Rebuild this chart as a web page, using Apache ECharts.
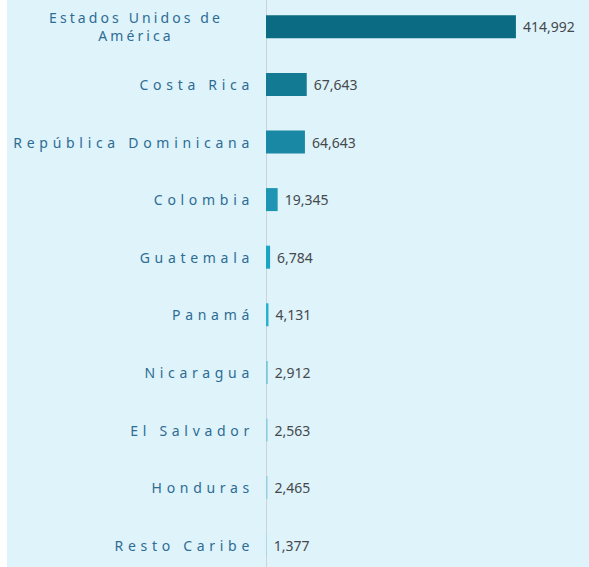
<!DOCTYPE html>
<html>
<head>
<meta charset="utf-8">
<script src="https://cdn.jsdelivr.net/npm/echarts@6/dist/echarts.min.js"></script>
<style>
  html, body { margin: 0; padding: 0; background: #ffffff; }
  #chart { width: 589px; height: 567px; }
  #chart svg text[fill="#2d6c93"] { letter-spacing: 4.7px; }
  #chart svg text[fill="#2d6c94"] { letter-spacing: 3.1px; }
</style>
</head>
<body>
<div id="chart"></div>
<script>
const categories = ['Estados Unidos de América', 'Costa Rica', 'República Dominicana', 'Colombia', 'Guatemala', 'Panamá', 'Nicaragua', 'El Salvador', 'Honduras', 'Resto Caribe'];
const values = [414992, 67643, 64643, 19345, 6784, 4131, 2912, 2563, 2465, 1377];
const barColors = ['#0b6b82', '#137a93', '#1888a4', '#1e95b2', '#1aa5c4', '#2ab1cd', '#7cc4d6', '#8ccbdb', '#97cfdd', '#a9d7e3'];

const chart = echarts.init(document.getElementById('chart'), null, { renderer: 'svg' });
const fmt = v => v.toLocaleString('en-US');

chart.setOption({
  animation: false,
  graphic: [{
    type: 'rect', z: -10, silent: true,
    shape: { x: 7, y: 0, width: 582, height: 567 },
    style: { fill: '#dff3fb' }
  }],
  grid: { left: 266, width: 271, top: -2, height: 576, containLabel: false, outerBoundsMode: 'none' },
  xAxis: {
    type: 'value', min: 0, max: 450000,
    show: false
  },
  yAxis: {
    type: 'category', inverse: true, data: categories,
    axisLine: { show: true, lineStyle: { color: '#cfd3d6', width: 1 } },
    axisTick: { show: false },
    axisLabel: {
      margin: 12,
      color: '#2d6c93',
      fontSize: 14,
      fontFamily: 'Noto Sans',
      formatter: function (v) {
        if (v === 'Estados Unidos de América') return '{u|Estados Unidos de}\n{u|América}';
        return v;
      },
      rich: {
        u: { width: 236, align: 'center', color: '#2d6c94', fontSize: 14, fontFamily: 'Noto Sans', lineHeight: 18 }
      }
    }
  },
  series: [{
    type: 'bar',
    data: values.map((v, i) => ({ value: v, itemStyle: { color: barColors[i] } })),
    barWidth: 23,
    label: {
      show: true, position: 'right', distance: 7,
      color: '#45494c', fontSize: 14, fontFamily: 'Noto Sans',
      formatter: p => fmt(p.value)
    }
  }]
});
</script>
</body>
</html>
